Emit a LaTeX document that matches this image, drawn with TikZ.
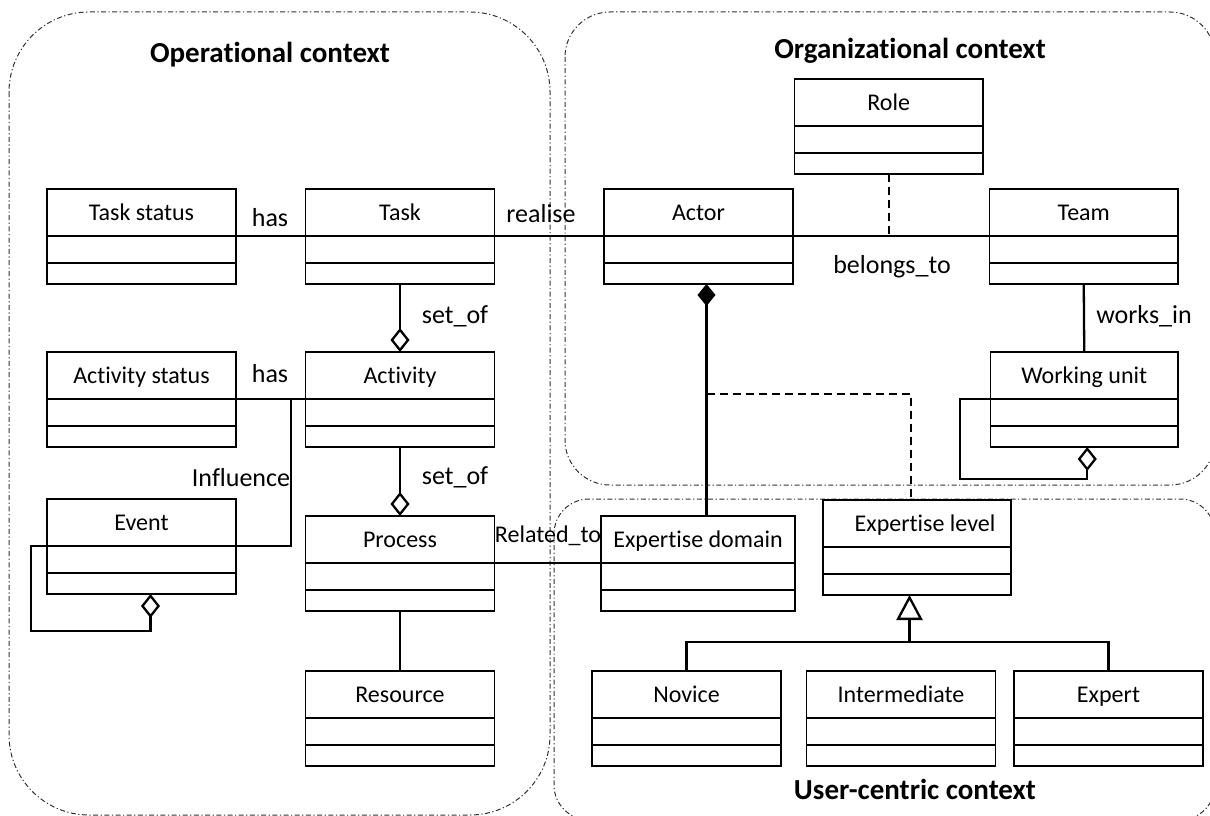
\documentclass[tikz,border=0pt]{standalone}
\usepackage{fontspec}
\setmainfont{Carlito}[Ligatures=NoCommon]
\usetikzlibrary{arrows.meta,calc}
\newcommand{\umlclass}[6][0]{%
  \node[umlbox, minimum width=#5pt] (#2) at (#3,#4) {};
  \node[clstext] (#2-t) at ([xshift=#1pt,yshift=-31.5pt]#2.north) {#6};}
\begin{document}
\begin{tikzpicture}[x=1pt,y=-1pt,
  umlbox/.style={draw, line width=1.5pt, anchor=north west, minimum height=95pt, inner sep=0pt, outer sep=0pt,
    path picture={\draw[line width=1.5pt]
      ([yshift=-47pt]path picture bounding box.north west) -- ([yshift=-47pt]path picture bounding box.north east)
      ([yshift=-74pt]path picture bounding box.north west) -- ([yshift=-74pt]path picture bounding box.north east);}},
  clstext/.style={anchor=base, font=\fontsize{24}{28}\selectfont, inner sep=0pt},
  lbl/.style={anchor=base, font=\fontsize{26}{30}\selectfont, inner sep=0pt},
  ttl/.style={anchor=base, font=\fontsize{29}{34}\selectfont\bfseries, inner sep=0pt},
  region/.style={line width=1pt, dash pattern=on 5pt off 2.5pt on 1.2pt off 2.5pt, draw=black!80},
  conn/.style={line width=2.3pt},
  dconn/.style={line width=2.3pt, dash pattern=on 8pt off 5pt},
  agg/.style={conn, -{Diamond[open, length=24pt, width=19pt]}},
  comp/.style={conn, {Diamond[length=22pt, width=18pt]}-},
  gen/.style={conn, -{Triangle[open, length=25pt, width=26pt]}},
]
\useasboundingbox (0,0) rectangle (1210,816);
\clip (0,0) rectangle (1210,816);

% context regions
\draw[region, rounded corners=80pt] (9,12) rectangle (550,815);
\draw[region, rounded corners=45pt] (565,12) rectangle (1215,485);
\draw[region, rounded corners=35pt] (554,499) rectangle (1215,820);

\node[ttl] (t-op) at (270,63) {Operational context};
\node[ttl] (t-org) at (910,59) {Organizational context};
\node[ttl] (t-user) at (915,799) {User-centric context};

% classes
\umlclass{taskstatus}{47}{189}{189}{Task status}
\umlclass{task}{305.5}{189}{189}{Task}
\umlclass{actor}{604}{189}{189}{Actor}
\umlclass{team}{989.5}{189}{188.5}{Team}
\umlclass{role}{794.5}{79}{188.5}{Role}
\umlclass{actstatus}{47}{352}{189}{Activity status}
\umlclass{activity}{305.5}{352}{189}{Activity}
\umlclass{wunit}{990.5}{352}{187.5}{Working unit}
\umlclass{event}{47}{499}{189}{Event}
\umlclass{process}{305.5}{516}{189}{Process}
\umlclass{resource}{305.5}{671}{189}{Resource}
\umlclass{expdomain}{601}{516}{194}{Expertise domain}
\umlclass[8]{explevel}{823}{500}{188}{Expertise level}
\umlclass{novice}{592}{671}{189}{Novice}
\umlclass{intermediate}{806.5}{671}{189}{Intermediate}
\umlclass{expert}{1014}{671}{189}{Expert}

% connectors
\draw[conn] ([yshift=-47pt]taskstatus.north east) -- ([yshift=-47pt]task.north west);
\draw[conn] ([yshift=-47pt]task.north east) -- ([yshift=-47pt]actor.north west);
\draw[conn] ([yshift=-47pt]actor.north east) -- ([yshift=-47pt]team.north west);
\coordinate (rj) at (role.south |- team.west);
\draw[dconn] (role.south) -- (rj);
\draw[agg] (task.south) -- (activity.north);
\draw[agg] (activity.south) -- (process.north);
\draw[conn] (process.south) -- (resource.north);
\draw[conn] ([yshift=-47pt]actstatus.north east) -- ([yshift=-47pt]activity.north west);
\coordinate (infl) at (291,399);
\draw[conn] ([yshift=-47pt]event.north east) -| (infl);
\coordinate (evloop) at (31,631);
\draw[agg] ([yshift=-47pt]event.north west) -| (evloop) -| ([xshift=9pt]event.south);
\draw[conn] ([yshift=-47pt]process.north east) -- ([yshift=-47pt]expdomain.north west);
\coordinate (adj) at ([xshift=8pt]actor.south);
\draw[comp] (adj) -- (adj |- expdomain.north);
\coordinate (ac) at (706.5,394);
\draw[dconn] (ac) -| ([xshift=-6pt]explevel.north);
\draw[conn] (team.south) -- (wunit.north);
\coordinate (wuloop) at (960,479);
\draw[agg] ([yshift=-47pt]wunit.north west) -| (wuloop) -| ([xshift=3pt]wunit.south);
\coordinate (gj) at (909.5,642);
\draw[conn] (novice.north) |- (gj);
\draw[conn] (expert.north) |- (gj);
\draw[gen] (gj) -- (gj |- explevel.south);

% labels
\node[lbl] (l-has1) at (270,226) {has};
\node[lbl] (l-realise) at (541,222) {realise};
\node[lbl] (l-belongs) at (892,273) {belongs\_to};
\node[lbl] (l-setof1) at (455,323) {set\_of};
\node[lbl] (l-has2) at (270,382) {has};
\node[lbl] (l-infl) at (241,486) {Influence};
\node[lbl] (l-setof2) at (455,484) {set\_of};
\node[lbl, font=\fontsize{24}{28}\selectfont] (l-rel) at (548,542) {Related\_to};
\node[lbl] (l-works) at (1144,323) {works\_in};
\end{tikzpicture}
\end{document}
